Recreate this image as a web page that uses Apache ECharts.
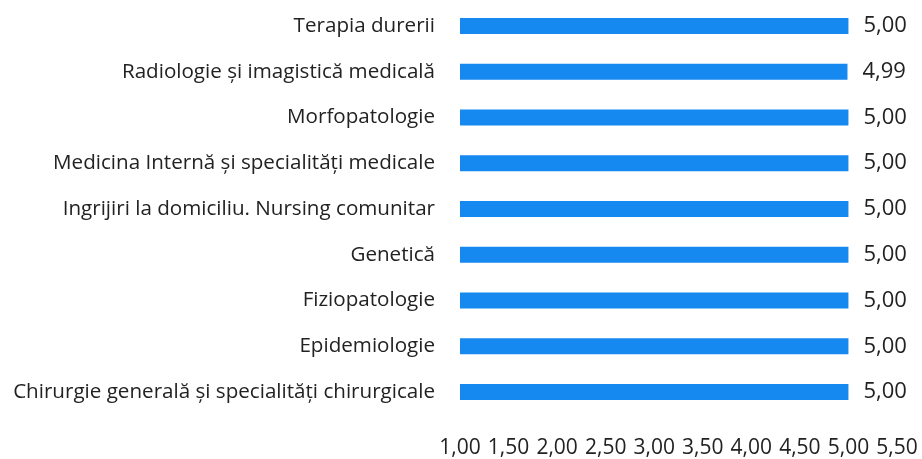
<!DOCTYPE html>
<html>
<head>
<meta charset="utf-8">
<script src="https://cdn.jsdelivr.net/npm/echarts@6/dist/echarts.min.js"></script>
<style>
  html, body { margin: 0; padding: 0; background: #fff; }
  #chart { width: 922px; height: 459px; }
</style>
</head>
<body>
<div id="chart"></div>
<script>
// categories, top to bottom
const categories = [
  "Terapia durerii",
  "Radiologie și imagistică medicală",
  "Morfopatologie",
  "Medicina Internă și specialități medicale",
  "Ingrijiri la domiciliu. Nursing comunitar",
  "Genetică",
  "Fiziopatologie",
  "Epidemiologie",
  "Chirurgie generală și specialități chirurgicale"
];
const scores = [5.00, 4.99, 5.00, 5.00, 5.00, 5.00, 5.00, 5.00, 5.00];

const fmt = (v) => Number(v).toFixed(2).replace(".", ","); // romanian decimal comma

const chart = echarts.init(document.getElementById("chart"));

const option = {
  animation: false,
  textStyle: { fontFamily: "Open Sans" },
  grid: { left: 460, right: 25, top: 3, bottom: 43, containLabel: false },
  xAxis: {
    type: "value",
    min: 1,
    max: 5.5,
    interval: 0.5,
    axisLine: { show: false },
    axisTick: { show: false },
    splitLine: { show: false },
    axisLabel: {
      formatter: fmt,
      color: "#222",
      fontSize: 21,
      margin: 23
    }
  },
  yAxis: {
    type: "category",
    data: categories,
    inverse: true,
    axisLine: { show: false },
    axisTick: { show: false },
    axisLabel: {
      color: "#222",
      fontSize: 20.6,
      margin: 25
    }
  },
  series: [
    {
      type: "bar",
      data: scores,
      barWidth: 16,
      itemStyle: { color: "#1589F0" },
      label: {
        show: true,
        position: "right",
        distance: 15,
        color: "#222",
        fontSize: 22,
        formatter: (p) => fmt(p.value)
      }
    }
  ]
};

chart.setOption(option);
</script>
</body>
</html>
